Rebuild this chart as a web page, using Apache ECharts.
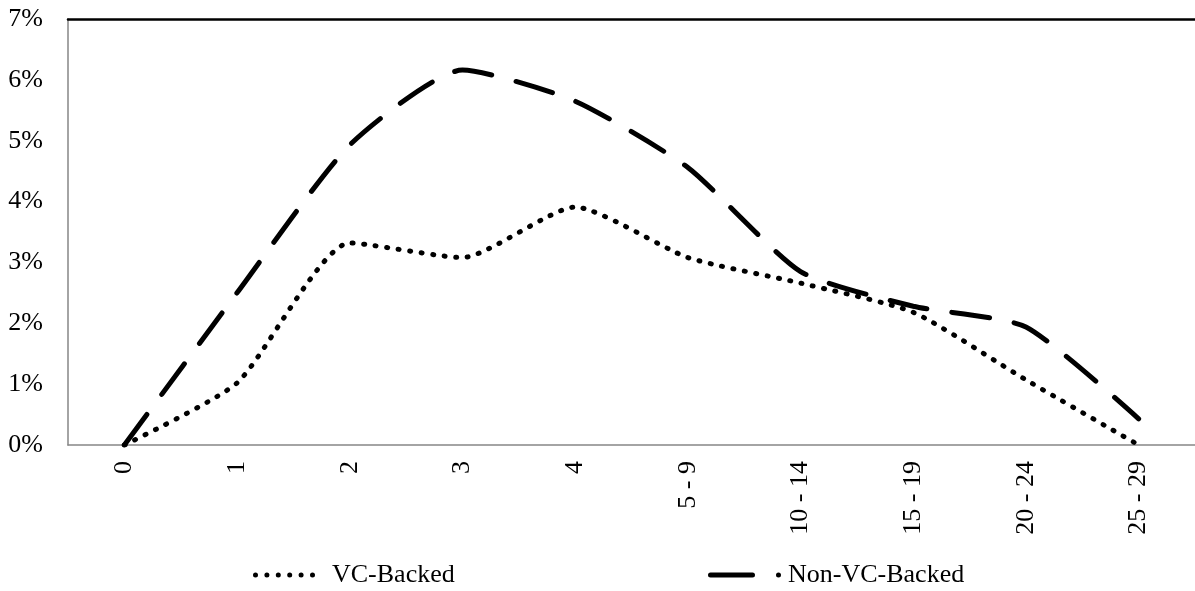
<!DOCTYPE html>
<html>
<head>
<meta charset="utf-8">
<script src="https://cdn.jsdelivr.net/npm/echarts@6/dist/echarts.min.js"></script>
<style>
  html, body {margin: 0; padding: 0; background: #fff;}
  #chart {width: 1195px; height: 591px;}
</style>
</head>
<body>
<div id="chart"></div>
<script>
const categories = ['0', '1', '2', '3', '4', '5 - 9', '10 - 14', '15 - 19', '20 - 24', '25 - 29'];
const vcBacked = [0, 1.02, 3.32, 3.08, 3.91, 3.08, 2.66, 2.18, 1.07, 0];
const nonVcBacked = [0, 2.5, 4.93, 6.16, 5.65, 4.56, 2.85, 2.28, 1.94, 0.43];
const yTicks = {min: 0, max: 7, step: 1};

const font = 'Liberation Serif';
const axisGray = '#868686';

// legend icons drawn like the excel ones: a row of dots, and a dash plus a dot
function dot(cx) {
  return 'M' + (cx - 2.5) + ',2.5a2.5,2.5 0 1,0 5,0a2.5,2.5 0 1,0 -5,0Z';
}
const dotsIcon = 'path://' + [2.5, 13.9, 25.3, 36.7, 48.1, 59.5].map(dot).join('');
const dashDotIcon = 'path://M2.5,0L44.5,0A2.5,2.5 0 0,1 44.5,5L2.5,5A2.5,2.5 0 0,1 2.5,0Z' + dot(70.5);

const myChart = echarts.init(document.getElementById('chart'));

const option = {
  animation: false,
  grid: {
    left: 68,
    right: -3,
    top: 19,
    bottom: 146,
  },
  legend: [{
    left: 248,
    top: 557,
    itemWidth: 62,
    itemHeight: 5,
    icon: dotsIcon,
    textStyle: {fontFamily: font, fontSize: 26, color: '#000', padding: [0, 0, 0, 12]},
    data: ['VC-Backed'],
  }, {
    left: 703,
    top: 557,
    itemWidth: 73,
    itemHeight: 5,
    icon: dashDotIcon,
    textStyle: {fontFamily: font, fontSize: 26, color: '#000', padding: [0, 0, 0, 2]},
    data: ['Non-VC-Backed'],
  }],
  xAxis: [{
    type: 'category',
    data: categories,
    boundaryGap: true,
    axisLine: {lineStyle: {color: axisGray, width: 1.5}},
    axisTick: {show: false},
    splitLine: {show: false},
    axisLabel: {
      rotate: 90,
      margin: 16,
      interval: 0,
      fontFamily: font,
      fontSize: 26,
      color: '#000',
    },
  }, {
    // black top border of the plot
    type: 'category',
    position: 'top',
    data: categories,
    axisLine: {lineStyle: {color: '#000', width: 2.5}},
    axisTick: {show: false},
    axisLabel: {show: false},
    splitLine: {show: false},
  }],
  yAxis: {
    type: 'value',
    min: yTicks.min,
    max: yTicks.max,
    interval: yTicks.step,
    axisLine: {show: true, lineStyle: {color: axisGray, width: 1.5}},
    axisTick: {show: false},
    splitLine: {show: false},
    axisLabel: {
      margin: 25,
      fontFamily: font,
      fontSize: 26,
      color: '#000',
      formatter: '{value}%',
    },
  },
  series: [{
    name: 'VC-Backed',
    type: 'line',
    data: vcBacked,
    smooth: 0.2,
    symbol: 'none',
    lineStyle: {color: '#000', width: 5, type: [1, 10.6], cap: 'round'},
    itemStyle: {color: '#000'},
  }, {
    name: 'Non-VC-Backed',
    type: 'line',
    data: nonVcBacked,
    smooth: 0.2,
    symbol: 'none',
    lineStyle: {color: '#000', width: 5, type: [38, 25], cap: 'round'},
    itemStyle: {color: '#000'},
  }],
};

myChart.setOption(option);
</script>
</body>
</html>
